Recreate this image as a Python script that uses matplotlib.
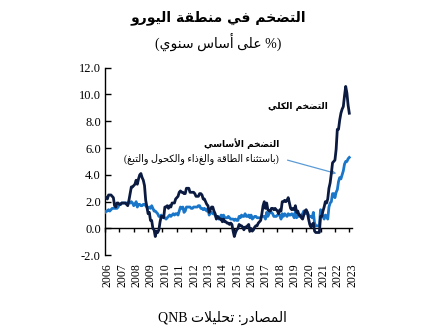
import re
import numpy as np
import matplotlib
matplotlib.use("Agg")
import matplotlib.pyplot as plt

# ---------------- data (monthly, Jan 2006 - Jan 2023, % y/y) ----------------
headline = [
    2.4, 2.3, 2.2, 2.5, 2.5, 2.5, 2.4, 2.3, 1.7, 1.6, 1.9, 1.9,   # 2006
    1.8, 1.8, 1.9, 1.9, 1.9, 1.9, 1.8, 1.7, 2.1, 2.6, 3.1, 3.1,   # 2007
    3.2, 3.3, 3.6, 3.3, 3.7, 4.0, 4.1, 3.8, 3.6, 3.2, 2.1, 1.6,   # 2008
    1.1, 1.2, 0.6, 0.6, 0.0, -0.1, -0.6, -0.2, -0.3, -0.1, 0.5, 0.9,  # 2009
    0.9, 0.8, 1.6, 1.6, 1.7, 1.5, 1.7, 1.6, 1.9, 1.9, 1.9, 2.2,   # 2010
    2.3, 2.4, 2.7, 2.8, 2.7, 2.7, 2.6, 2.6, 3.0, 3.0, 3.0, 2.7,   # 2011
    2.7, 2.7, 2.7, 2.6, 2.4, 2.4, 2.4, 2.6, 2.6, 2.5, 2.2, 2.2,   # 2012
    2.0, 1.8, 1.7, 1.2, 1.4, 1.6, 1.6, 1.3, 1.1, 0.7, 0.9, 0.8,   # 2013
    0.7, 0.7, 0.5, 0.7, 0.5, 0.5, 0.4, 0.4, 0.3, 0.4, 0.3, -0.2,  # 2014
    -0.6, -0.3, -0.1, 0.0, 0.3, 0.2, 0.2, 0.1, -0.1, 0.1, 0.1, 0.2,  # 2015
    0.3, -0.2, 0.0, -0.2, -0.1, 0.1, 0.2, 0.2, 0.4, 0.5, 0.6, 1.1,  # 2016
    1.7, 2.0, 1.5, 1.9, 1.4, 1.3, 1.3, 1.5, 1.5, 1.4, 1.5, 1.4,   # 2017
    1.3, 1.1, 1.4, 1.3, 2.0, 2.0, 2.1, 2.0, 2.1, 2.3, 1.9, 1.5,   # 2018
    1.4, 1.5, 1.4, 1.7, 1.2, 1.3, 1.0, 1.0, 0.8, 0.7, 1.0, 1.3,   # 2019
    1.4, 1.2, 0.7, 0.3, 0.1, 0.3, 0.4, -0.2, -0.3, -0.3, -0.3, -0.3,  # 2020
    0.9, 0.9, 1.3, 1.6, 2.0, 1.9, 2.2, 3.0, 3.4, 4.1, 4.9, 5.0,   # 2021
    5.1, 5.9, 7.4, 7.4, 8.1, 8.6, 8.9, 9.1, 9.9, 10.6, 10.1, 9.2,  # 2022
    8.6,                                                          # 2023
]
core = [
    1.2, 1.3, 1.3, 1.4, 1.3, 1.4, 1.5, 1.5, 1.5, 1.5, 1.5, 1.6,   # 2006
    1.8, 1.8, 1.9, 1.9, 1.9, 1.9, 1.9, 1.9, 1.9, 1.9, 2.0, 1.9,   # 2007
    1.7, 1.8, 2.0, 1.6, 1.8, 1.8, 1.7, 1.7, 1.8, 1.8, 1.7, 1.6,   # 2008
    1.5, 1.6, 1.5, 1.7, 1.5, 1.3, 1.3, 1.2, 1.1, 0.9, 0.9, 1.0,   # 2009
    0.9, 0.8, 0.8, 0.7, 0.8, 0.9, 1.0, 0.9, 1.0, 1.1, 1.0, 1.1,   # 2010
    1.1, 1.0, 1.3, 1.6, 1.5, 1.6, 1.2, 1.3, 1.6, 1.6, 1.6, 1.6,   # 2011
    1.5, 1.5, 1.6, 1.6, 1.6, 1.6, 1.7, 1.7, 1.5, 1.5, 1.4, 1.5,   # 2012
    1.4, 1.3, 1.5, 1.0, 1.2, 1.2, 1.1, 1.1, 1.0, 0.8, 0.9, 0.7,   # 2013
    0.8, 1.0, 0.7, 1.0, 0.8, 0.8, 0.8, 0.9, 0.8, 0.7, 0.7, 0.7,   # 2014
    0.6, 0.7, 0.6, 0.6, 0.9, 0.8, 1.0, 0.9, 0.9, 1.1, 0.9, 0.9,   # 2015
    1.0, 0.8, 1.0, 0.7, 0.8, 0.9, 0.9, 0.8, 0.8, 0.8, 0.8, 0.9,   # 2016
    0.9, 0.9, 0.7, 1.2, 0.9, 1.1, 1.2, 1.2, 1.1, 0.9, 0.9, 0.9,   # 2017
    1.0, 1.0, 1.0, 0.7, 1.1, 0.9, 1.1, 1.0, 0.9, 1.1, 1.0, 1.0,   # 2018
    1.1, 1.0, 0.8, 1.3, 0.8, 1.1, 0.9, 0.9, 1.0, 1.1, 1.3, 1.3,   # 2019
    1.1, 1.2, 1.0, 0.9, 0.9, 0.8, 1.2, 0.4, 0.2, 0.2, 0.2, 0.2,   # 2020
    1.4, 1.1, 0.9, 0.7, 1.0, 0.9, 0.7, 1.6, 1.9, 2.0, 2.6, 2.6,   # 2021
    2.3, 2.7, 2.9, 3.5, 3.8, 3.7, 4.0, 4.3, 4.8, 5.0, 5.0, 5.2,   # 2022
    5.3,                                                          # 2023
]
start_year = 2006
years = list(range(2006, 2024))
yticks = [-2, 0, 2, 4, 6, 8, 10, 12]

title_txt = "التضخم في منطقة اليورو"
subtitle_txt = "(% على أساس سنوي)"
headline_lbl = "التضخم الكلي"
core_lbl = "التضخم الأساسي"
core_note = "(باستثناء الطاقة والغذاء والكحول والتبغ)"
source_txt = "المصادر: تحليلات QNB"

# ---------------- simple Arabic shaping + visual ordering ----------------
_F = {  # iso, fin, ini, med
    'ء': (0xFE80, None, None, None),
    'أ': (0xFE83, 0xFE84, None, None),
    'ا': (0xFE8D, 0xFE8E, None, None),
    'ب': (0xFE8F, 0xFE90, 0xFE91, 0xFE92),
    'ة': (0xFE93, 0xFE94, None, None),
    'ت': (0xFE95, 0xFE96, 0xFE97, 0xFE98),
    'ث': (0xFE99, 0xFE9A, 0xFE9B, 0xFE9C),
    'ح': (0xFEA1, 0xFEA2, 0xFEA3, 0xFEA4),
    'خ': (0xFEA5, 0xFEA6, 0xFEA7, 0xFEA8),
    'د': (0xFEA9, 0xFEAA, None, None),
    'ر': (0xFEAD, 0xFEAE, None, None),
    'س': (0xFEB1, 0xFEB2, 0xFEB3, 0xFEB4),
    'ص': (0xFEB9, 0xFEBA, 0xFEBB, 0xFEBC),
    'ض': (0xFEBD, 0xFEBE, 0xFEBF, 0xFEC0),
    'ط': (0xFEC1, 0xFEC2, 0xFEC3, 0xFEC4),
    'ع': (0xFEC9, 0xFECA, 0xFECB, 0xFECC),
    'غ': (0xFECD, 0xFECE, 0xFECF, 0xFED0),
    'ف': (0xFED1, 0xFED2, 0xFED3, 0xFED4),
    'ق': (0xFED5, 0xFED6, 0xFED7, 0xFED8),
    'ك': (0xFED9, 0xFEDA, 0xFEDB, 0xFEDC),
    'ل': (0xFEDD, 0xFEDE, 0xFEDF, 0xFEE0),
    'م': (0xFEE1, 0xFEE2, 0xFEE3, 0xFEE4),
    'ن': (0xFEE5, 0xFEE6, 0xFEE7, 0xFEE8),
    'و': (0xFEED, 0xFEEE, None, None),
    'ى': (0xFEEF, 0xFEF0, None, None),
    'ي': (0xFEF1, 0xFEF2, 0xFEF3, 0xFEF4),
}
_LAM_ALEF = {'ا': (0xFEFB, 0xFEFC), 'أ': (0xFEF7, 0xFEF8)}


def _shape(s):
    out = []
    n = len(s)
    i = 0
    while i < n:
        c = s[i]
        if c not in _F:
            out.append(c)
            i += 1
            continue
        prev = s[i - 1] if i > 0 else None
        prev_dual = prev in _F and _F[prev][2] is not None
        if c == 'ل' and i + 1 < n and s[i + 1] in _LAM_ALEF:
            iso, fin = _LAM_ALEF[s[i + 1]]
            out.append(chr(fin if prev_dual else iso))
            i += 2
            continue
        iso, fin, ini, med = _F[c]
        nxt = s[i + 1] if i + 1 < n else None
        jp = prev_dual and fin is not None
        jn = ini is not None and nxt in _F and _F[nxt][1] is not None
        if jp and jn:
            g = med
        elif jp:
            g = fin
        elif jn:
            g = ini
        else:
            g = iso
        out.append(chr(g))
        i += 1
    return ''.join(out)


def ar(s):
    v = _shape(s)[::-1]
    v = v.translate(str.maketrans({'(': ')', ')': '('}))
    v = re.sub(r'[A-Za-z0-9]+', lambda m: m.group(0)[::-1], v)
    return v


AR_FONT = ['DejaVu Sans']
SERIF = ['Liberation Serif', 'DejaVu Sans']

# ---------------- figure ----------------
fig = plt.figure(figsize=(4.24, 3.35), dpi=100)
ax = fig.add_axes([0.2476, 0.238, 0.583, 0.560])

t = start_year + np.arange(len(headline)) / 12.0
navy = '#0b1a40'
blue = '#1a76c9'
ax.plot(t, core, color=blue, lw=2.0, solid_joinstyle='round', zorder=3)
ax.plot(t, headline, color=navy, lw=2.0, solid_joinstyle='round', zorder=4)

ax.set_xlim(2006.0, 2023.2)
ax.set_ylim(-2, 12)

for s in ['top', 'right']:
    ax.spines[s].set_visible(False)
ax.spines['left'].set_color('black')
ax.spines['left'].set_linewidth(1.0)
ax.spines['bottom'].set_position(('data', 0))
ax.spines['bottom'].set_linewidth(1.0)

ax.set_yticks(yticks)
ax.set_yticklabels([f"{v:.1f}" for v in yticks], family=SERIF, fontsize=9)
ax.tick_params(axis='y', direction='in', length=4, width=1, pad=3)

ax.set_xticks(years)
ax.tick_params(axis='x', direction='out', length=3, width=1, labelbottom=False)

sec = ax.secondary_xaxis(0)
sec.set_xticks([y + 0.2 for y in years])
sec.set_xticklabels([str(y) for y in years], rotation=90, family=SERIF, fontsize=8.5)
sec.tick_params(axis='x', length=0, pad=6)
sec.spines['bottom'].set_visible(False)

# ---------------- texts ----------------
fig.text(0.515, 0.948, ar(title_txt), ha='center', va='center',
         family=AR_FONT, fontsize=10, fontweight='bold')
fig.text(0.515, 0.875, ar(subtitle_txt), ha='center', va='center',
         family=SERIF, fontsize=10)
fig.text(0.525, 0.05, ar(source_txt), ha='center', va='center',
         family=SERIF, fontsize=10)

ax.text(2021.5, 9.1, ar(headline_lbl), ha='right', va='center',
        family=AR_FONT, fontsize=6.5, fontweight='bold', color='black')
ax.text(2018.1, 6.3, ar(core_lbl), ha='right', va='center',
        family=AR_FONT, fontsize=6.5, fontweight='bold', color='black')
ax.text(2018.1, 5.2, ar(core_note), ha='right', va='center',
        family=SERIF, fontsize=7, color='black')
ax.annotate('', xy=(2022.1, 4.1), xytext=(2018.7, 5.1),
            arrowprops=dict(arrowstyle='-|>', color='#5b9bd5', lw=0.9,
                            mutation_scale=7, shrinkA=0, shrinkB=0))

fig.savefig('out.png', dpi=100)
